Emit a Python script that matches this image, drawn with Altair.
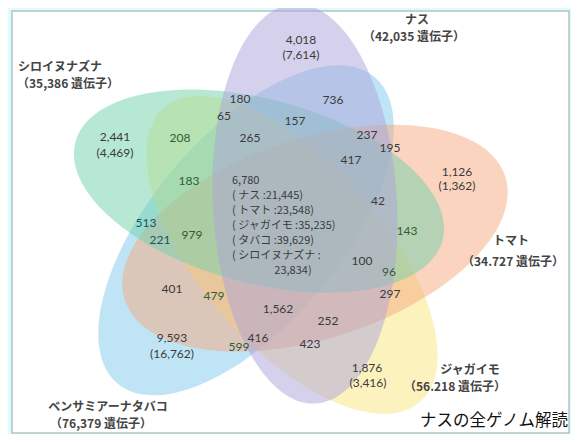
import altair as alt
import pandas as pd

# ---------------- data ----------------
set_names = ["ナス", "トマト", "ジャガイモ", "ベンサミアーナタバコ", "シロイヌナズナ"]
set_totals = ["（42,035 遺伝子）", "（34.727 遺伝子）", "（56.218 遺伝子）", "（76,379 遺伝子）", "（35,386 遺伝子）"]

region_counts = ["4,018", "(7,614)", "2,441", "(4,469)", "208", "180", "65", "736", "157",
                 "265", "237", "195", "417", "183", "42", "1,126", "(1,362)", "513", "221",
                 "979", "143", "100", "96", "297", "401", "479", "1,562", "252", "9,593",
                 "(16,762)", "599", "416", "423", "1,876", "(3,416)"]

core_lines = ["6,780", "( ナス :21,445)", "( トマト :23,548)", "( ジャガイモ :35,235)",
              "( タバコ :39,629)", "( シロイヌナズナ :"]
core_tail = "23,834)"
title_text = "ナスの全ゲノム解読"

# ---------------- layout (positions / styles) ----------------
W, H = 563, 426
X0, Y0 = 8, 8
xs = alt.Scale(domain=[X0, X0 + W], nice=False, zero=False)
ys = alt.Scale(domain=[Y0, Y0 + H], nice=False, zero=False, reverse=True)

# ellipse geometry: center x, center y, semi-major, semi-minor, angle, fill
ell_geom = {
    "ベンサミアーナタバコ": (246, 232, 200, 95, 130, "#80c9ec"),
    "ジャガイモ": (292, 257, 195, 92, 49, "#f9e67e"),
    "トマト": (315, 240, 200, 100, 162, "#f5aa80"),
    "シロイヌナズナ": (259, 192, 190, 92, 15, "#6fd2aa"),
    "ナス": (305, 205, 200, 92, 87, "#aca4da"),
}

def ellipse_path(r):
    k = 0.5523
    return (f"M 1 0 C 1 {k*r:.4f} {k:.4f} {r:.4f} 0 {r:.4f} "
            f"C {-k:.4f} {r:.4f} -1 {k*r:.4f} -1 0 "
            f"C -1 {-k*r:.4f} {-k:.4f} {-r:.4f} 0 {-r:.4f} "
            f"C {k:.4f} {-r:.4f} 1 {-k*r:.4f} 1 0 Z")

ell_rows = []
for i, (name, (cx, cy, a, b, ang, col)) in enumerate(ell_geom.items()):
    ell_rows.append(dict(name=name, cx=cx, cy=cy, sz=4 * a * a, ang=ang,
                         path=ellipse_path(b / a), col=col, order=i))
ell_df = pd.DataFrame(ell_rows)

count_pos = [(301, 38), (301, 53), (115, 137), (115, 153), (180, 138), (240, 98), (224, 115),
             (333, 99), (295, 120), (250, 138), (367, 135), (390, 148), (351, 160), (189, 182),
             (378, 202), (457, 172), (457, 187), (146, 225), (160, 242), (192, 237), (407, 233),
             (362, 263), (389, 275), (390, 297), (172, 292), (214, 299), (278, 312), (328, 325),
             (172, 342), (172, 358), (239, 351), (258, 342), (310, 348), (367, 373), (368, 388)]
DARK = "#3b3b3b"
GREEN = "#2f5d36"
TEAL = "#1f5058"
count_col = {"208": GREEN, "183": GREEN, "979": GREEN, "143": GREEN, "96": GREEN,
             "599": GREEN, "479": GREEN, "513": TEAL, "221": TEAL}
cnt_df = pd.DataFrame([dict(t=t, x=p[0], y=p[1], c=count_col.get(t, DARK))
                       for t, p in zip(region_counts, count_pos)])

core_y = [182, 197, 212, 228, 243, 258]
core_df = pd.DataFrame([dict(t=t, x=232, y=y) for t, y in zip(core_lines, core_y)])
tail_df = pd.DataFrame([dict(t=core_tail, x=293, y=274)])

name_pos = {"ナス": ((417, 17), (414, 35)), "トマト": ((511, 243), (513, 264)),
            "ジャガイモ": ((470, 375), (455, 392)), "ベンサミアーナタバコ": ((108, 413), (101, 430)),
            "シロイヌナズナ": ((60, 65), (68, 83))}
name_rows = []
for n, tot in zip(set_names, set_totals):
    (p1, p2) = name_pos[n]
    name_rows.append(dict(t=n, x=p1[0], y=p1[1]))
    name_rows.append(dict(t=tot, x=p2[0], y=p2[1]))
name_df = pd.DataFrame(name_rows)

title_df = pd.DataFrame([dict(t=title_text, x=568, y=427)])
panel_df = pd.DataFrame([dict(x=12, x2=569, y=8, y2=439)])

FONT = "Noto Sans CJK JP"
NUMFONT = "Lato"

def X(f="x"):
    return alt.X(f"{f}:Q", scale=xs, axis=None)

def Y(f="y"):
    return alt.Y(f"{f}:Q", scale=ys, axis=None)

panel = alt.Chart(panel_df).mark_rect(fill="white", stroke="#b4c2c2", strokeWidth=1.5).encode(
    x=X("x"), x2="x2:Q", y=Y("y"), y2="y2:Q")

ellipses = alt.Chart(ell_df).mark_point(filled=True, opacity=0.5, strokeWidth=0).encode(
    x=X("cx"), y=Y("cy"),
    shape=alt.Shape("path:N", scale=None),
    size=alt.Size("sz:Q", scale=None),
    angle=alt.Angle("ang:Q", scale=None),
    color=alt.Color("col:N", scale=None),
    order=alt.Order("order:Q"))

counts = alt.Chart(cnt_df).mark_text(font=NUMFONT, fontSize=12, align="center", baseline="middle").encode(
    x=X(), y=Y(), text="t:N", color=alt.Color("c:N", scale=None))

core = alt.Chart(core_df).mark_text(font=FONT, fontSize=11, align="left", baseline="middle",
                                    color=DARK).encode(x=X(), y=Y(), text="t:N")
tail = alt.Chart(tail_df).mark_text(font=FONT, fontSize=11, align="center", baseline="middle",
                                    color=DARK).encode(x=X(), y=Y(), text="t:N")

names = alt.Chart(name_df).mark_text(font=FONT, fontSize=12, fontWeight="bold", align="center",
                                     baseline="middle", color="#444444").encode(
    x=X(), y=Y(), text="t:N")

title = alt.Chart(title_df).mark_text(font=FONT, fontSize=16.5, align="right", baseline="middle",
                                      color="#111111").encode(x=X(), y=Y(), text="t:N")

chart = alt.layer(panel, ellipses, counts, core, tail, names, title).properties(
    width=W, height=H, padding=0,
    autosize=alt.AutoSizeParams(type="fit", contains="padding"),
    background="#dcfcfd",
).configure_view(stroke=None)

chart.save("out.html", embed_options={"renderer": "svg", "actions": False})
